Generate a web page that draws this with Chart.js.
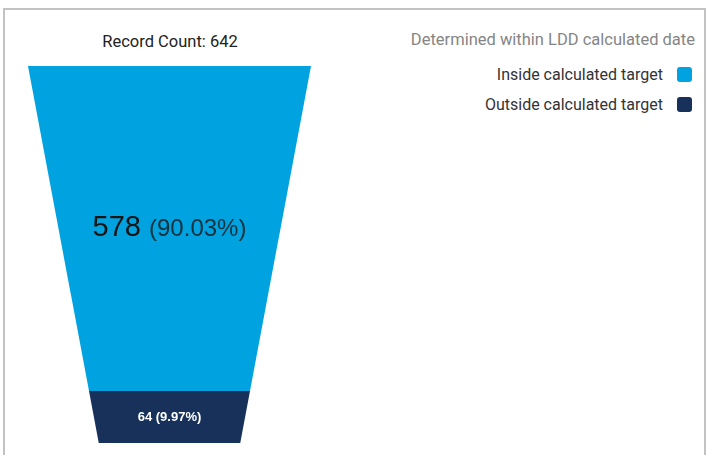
<!DOCTYPE html>
<html>
<head>
<meta charset="utf-8">
<script src="https://cdn.jsdelivr.net/npm/chart.js@4.4.1/dist/chart.umd.min.js"></script>
<style>
  html, body { margin: 0; padding: 0; background: #fff; width: 712px; height: 455px; overflow: hidden; font-family: Roboto, "Liberation Sans", Arial, sans-serif; }
  .frame { position: absolute; left: 3px; top: 8px; width: 703px; height: 520px; box-sizing: border-box; border: 2px solid #c2c2c2; }
  .record-count { position: absolute; left: 0; width: 340px; top: 32px; line-height: 20px; text-align: center; font-size: 16.5px; color: #222; }
  .legend-title { position: absolute; right: 17px; top: 30px; line-height: 20px; font-size: 16.5px; color: #858585; }
  .legend { position: absolute; right: 20px; top: 59px; }
  .legend-item { display: flex; align-items: center; justify-content: flex-end; height: 30px; font-size: 16px; color: #333; }
  .legend-box { width: 15px; height: 15px; border-radius: 3px; margin-left: 14px; }
  #funnelChart { position: absolute; left: 28px; top: 66px; }
</style>
</head>
<body>
<div class="frame"></div>
<div class="record-count" id="recordCount"></div>
<div class="legend-title">Determined within LDD calculated date</div>
<div class="legend" id="legend"></div>
<canvas id="funnelChart" width="283" height="377"></canvas>

<script>
// ------------------------------------------
// Funnel data
// ------------------------------------------
const stages = ["Inside calculated target", "Outside calculated target"];
const counts = [578, 64];
const stageColors = ["#00a3e0", "#17315b"];
const labelColors = ["#151515", "#ffffff"];

// funnel look
const neckRatio = 0.5;     // bottom width relative to top width
const minShare = 0.138;    // smallest stage keeps some height so it stays readable

const total = counts.reduce((a, b) => a + b, 0);

document.getElementById("recordCount").innerText = "Record Count: " + total;

document.getElementById("legend").innerHTML = stages.map((s, i) => `
  <div class="legend-item">
    <span>${s}</span>
    <span class="legend-box" style="background:${stageColors[i]}"></span>
  </div>
`).join('');

// display heights: small stages are lifted to minShare, the rest share what is left
const rawShares = counts.map(c => c / total);
const small = rawShares.map(s => s < minShare);
const bigSum = rawShares.reduce((a, s, i) => a + (small[i] ? 0 : s), 0);
const left = 1 - small.filter(Boolean).length * minShare;
const shares = rawShares.map((s, i) => small[i] ? minShare : s / bigSum * left);

function halfWidth(t) { return 1 - (1 - neckRatio) * t; }

// one closed polygon per stage, in scale units
let acc = 0;
const datasets = counts.map((c, i) => {
  const t0 = acc, t1 = acc + shares[i];
  acc = t1;
  return {
    label: stages[i],
    data: [
      { x: -halfWidth(t0), y: t0 },
      { x: halfWidth(t0), y: t0 },
      { x: halfWidth(t1), y: t1 },
      { x: -halfWidth(t1), y: t1 }
    ],
    backgroundColor: stageColors[i],
    pointRadius: 0,
    showLine: false
  };
});

const funnelPlugin = {
  id: "funnelShapes",
  afterDatasetsDraw(chart) {
    const ctx = chart.ctx;
    chart.data.datasets.forEach((ds, i) => {
      const pts = chart.getDatasetMeta(i).data;
      ctx.save();
      ctx.beginPath();
      pts.forEach((p, k) => k === 0 ? ctx.moveTo(p.x, p.y) : ctx.lineTo(p.x, p.y));
      ctx.closePath();
      ctx.fillStyle = ds.backgroundColor;
      ctx.fill();
      ctx.restore();

      // stage label
      const cx = (pts[0].x + pts[1].x) / 2;
      const cy = (pts[0].y + pts[2].y) / 2;
      const pct = "(" + (counts[i] / total * 100).toFixed(2) + "%)";
      ctx.save();
      ctx.textBaseline = "middle";
      ctx.fillStyle = labelColors[i];
      if (pts[2].y - pts[0].y > 100) {
        const big = "29px 'Liberation Sans', Arial, sans-serif";
        const mid = "24px 'Liberation Sans', Arial, sans-serif";
        ctx.font = big;
        const w1 = ctx.measureText(String(counts[i]) + " ").width;
        ctx.font = mid;
        const w2 = ctx.measureText(pct).width;
        let x = cx - (w1 + w2) / 2;
        ctx.textAlign = "left";
        ctx.font = big;
        ctx.fillText(String(counts[i]), x, cy);
        ctx.font = mid;
        ctx.globalAlpha = 0.8;
        ctx.fillText(pct, x + w1, cy + 1);
      } else {
        ctx.textAlign = "center";
        ctx.font = "bold 13px 'Liberation Sans', Arial, sans-serif";
        ctx.fillText(counts[i] + " " + pct, cx, cy);
      }
      ctx.restore();
    });
  }
};

new Chart(document.getElementById("funnelChart"), {
  type: "scatter",
  data: { datasets: datasets },
  options: {
    responsive: false,
    animation: false,
    layout: { padding: 0 },
    plugins: {
      legend: { display: false },
      tooltip: { enabled: false },
      title: { display: false }
    },
    scales: {
      x: { type: "linear", min: -1, max: 1, display: false },
      y: { type: "linear", min: 0, max: 1, reverse: true, display: false }
    }
  },
  plugins: [funnelPlugin]
});
</script>
</body>
</html>
